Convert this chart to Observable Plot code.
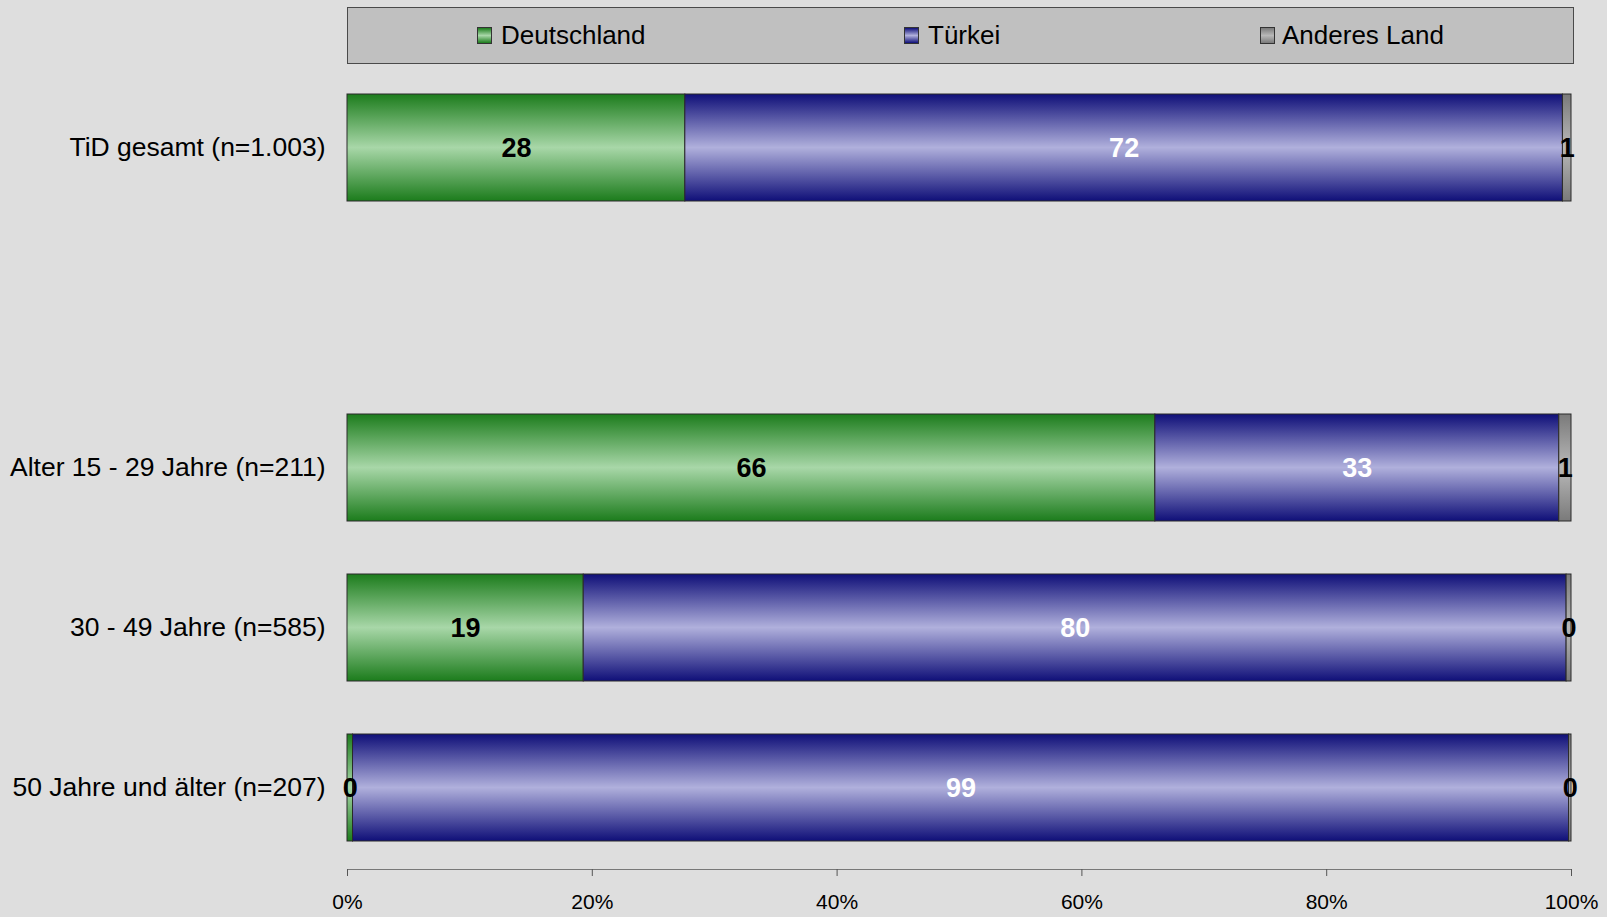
<!DOCTYPE html>
<html>
<head>
<meta charset="utf-8">
<script src="https://cdn.jsdelivr.net/npm/d3@7"></script>
<script src="https://cdn.jsdelivr.net/npm/@observablehq/plot@0.6"></script>
<style>
  html, body { margin: 0; padding: 0; background: #dedede; font-family: "Liberation Sans", Arial, sans-serif; }
  #legend { position: relative; margin: 7px 0 0 347px; width: 1227px; height: 57px; box-sizing: border-box;
            background: #c0c0c0; border: 1px solid #4a4a4a; }
  .sw { position: absolute; top: 19px; width: 15px; height: 17px; box-sizing: border-box; border: 1px solid #333; }
  .lt { position: absolute; top: 0; line-height: 55px; font-size: 26px; color: #000; white-space: nowrap; }
</style>
</head>
<body>
<div id="legend"></div>
<div id="chart"></div>
<script>
// ---- data ----
const categories = ["TiD gesamt (n=1.003)", "Alter 15 - 29 Jahre (n=211)", "30 - 49 Jahre (n=585)", "50 Jahre und älter (n=207)"];
const series = ["Deutschland", "Türkei", "Anderes Land"];
const deutschland = [27.6, 66.0, 19.3, 0.45];
const tuerkei = [71.7, 33.0, 80.3, 99.35];
const anderes = [0.7, 1.0, 0.4, 0.2];
const xTicks = [0, 20, 40, 60, 80, 100];
const gapKey = "__gap__";

// ---- colours (gradient dark / light) ----
const grad = {
  "Deutschland": {id: "gGreen", dark: "#1c7c1c", light: "#a8d7a8"},
  "Türkei": {id: "gBlue", dark: "#0f0f78", light: "#b0b0dc"},
  "Anderes Land": {id: "gGray", dark: "#7a7a7a", light: "#b8b8b8"}
};

const values = {"Deutschland": deutschland, "Türkei": tuerkei, "Anderes Land": anderes};
const data = [];
categories.forEach((c, i) => {
  series.forEach(s => data.push({cat: c, series: s, value: values[s][i], label: String(Math.round(values[s][i]))}));
});

// ---- legend ----
const legend = document.getElementById("legend");
const legendPos = [[129, 153], [556, 580], [912, 934]];
series.forEach((s, i) => {
  const g = grad[s];
  const sw = document.createElement("div");
  sw.className = "sw";
  sw.style.left = legendPos[i][0] + "px";
  sw.style.background = `linear-gradient(to bottom, ${g.dark}, ${g.light} 50%, ${g.dark})`;
  legend.appendChild(sw);
  const t = document.createElement("div");
  t.className = "lt";
  t.style.left = legendPos[i][1] + "px";
  t.textContent = s;
  legend.appendChild(t);
});

// ---- gradient defs mark ----
function defsMark() {
  const defs = d3.create("svg:defs");
  series.forEach(s => {
    const g = grad[s];
    const lg = defs.append("linearGradient").attr("id", g.id).attr("x1", 0).attr("y1", 0).attr("x2", 0).attr("y2", 1);
    lg.append("stop").attr("offset", "0%").attr("stop-color", g.dark);
    lg.append("stop").attr("offset", "50%").attr("stop-color", g.light);
    lg.append("stop").attr("offset", "100%").attr("stop-color", g.dark);
  });
  return defs.node();
}

const yDomain = [categories[0], gapKey, ...categories.slice(1)];

const chart = Plot.plot({
  width: 1607,
  height: 853,
  marginLeft: 347,
  marginRight: 36,
  marginTop: 0,
  marginBottom: 48,
  style: {background: "transparent", fontFamily: "'Liberation Sans', Arial, sans-serif", color: "#000", overflow: "visible"},
  x: {domain: [0, 100], axis: null},
  y: {domain: yDomain, range: [2, 805], paddingInner: 0.333, paddingOuter: 0.1667, axis: null},
  color: {domain: series, range: series.map(s => `url(#${grad[s].id})`)},
  marks: [
    defsMark,
    Plot.barX(data, Plot.stackX({x: "value", y: "cat", fill: "series", stroke: "#2a2a2a", strokeWidth: 1})),
    Plot.text(data, Plot.stackX({x: "value", y: "cat", text: d => d.series === "Türkei" ? "" : d.label,
      fill: "#000", fontSize: 27, fontWeight: "bold"})),
    Plot.text(data, Plot.stackX({x: "value", y: "cat", text: d => d.series === "Türkei" ? d.label : "",
      fill: "#fff", fontSize: 27, fontWeight: "bold"})),
    Plot.frame({anchor: "bottom", stroke: "#777"}),
    Plot.axisX({ticks: xTicks, tickSize: 7, tickPadding: 18, tickFormat: d => d + "%", fontSize: 21,
      stroke: "#555", fill: "#000", label: null}),
    Plot.axisY({ticks: categories, tickSize: 0, tickPadding: 22, fontSize: 26.5, fill: "#000", label: null})
  ]
});
document.getElementById("chart").appendChild(chart);
</script>
</body>
</html>
